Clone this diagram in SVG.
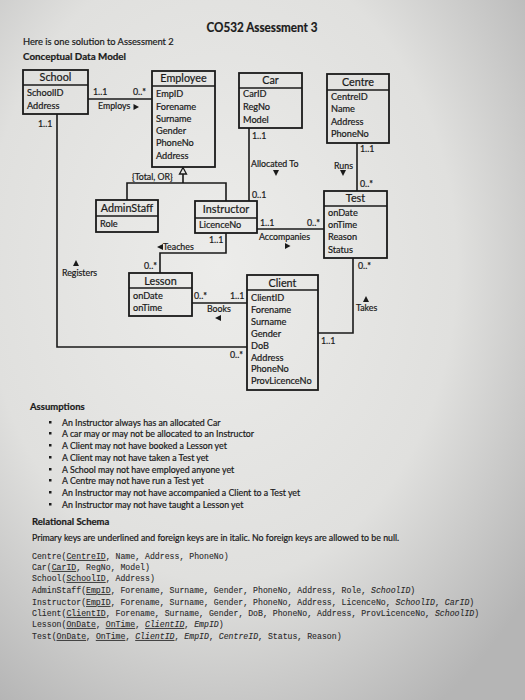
<svg xmlns="http://www.w3.org/2000/svg" width="525" height="700" viewBox="0 0 525 700">
<defs>
<radialGradient id="bg" cx="0.42" cy="0.38" r="0.75">
<stop offset="0" stop-color="#ececea"/>
<stop offset="0.6" stop-color="#e0e0de"/>
<stop offset="1" stop-color="#b5b5b5"/>
</radialGradient>
<style>
text{font-family:Lato,"Liberation Sans",sans-serif;fill:#1a1a1a;stroke:#1a1a1a;stroke-width:0.2}
.box{fill:none;stroke:#1a1a1a;stroke-width:1.8}
.ln{fill:none;stroke:#1a1a1a;stroke-width:1.6}
.t{font-size:10.8px;text-anchor:middle}
.f{font-size:9.2px}
.l{font-size:8.8px}
.a{font-size:8.8px}
.s{font-family:"Liberation Mono",monospace;font-size:8.2px;fill:#2a2a2a;stroke:#2a2a2a;stroke-width:0.1}
.u{text-decoration:underline}
.i{font-style:italic}
.tri{fill:#1a1a1a}
</style>
</defs>
<rect width="525" height="700" fill="url(#bg)"/>

<text x="262" y="32" style="font-size:12.5px;font-weight:bold" text-anchor="middle" textLength="111" lengthAdjust="spacingAndGlyphs">CO532 Assessment 3</text>
<text x="23" y="45" style="font-size:9.3px">Here is one solution to Assessment 2</text>
<text x="23" y="60" style="font-size:9.8px;font-weight:bold">Conceptual Data Model</text>

<g id="connectors">
<path class="ln" d="M88,99 H152"/>
<path class="ln" d="M57,114 V347 H247"/>
<path class="ln" d="M183,174 V183 M127,200 V183 H226 V201"/>
<polygon points="183,167.5 179.5,174 186.5,174" fill="none" stroke="#1a1a1a" stroke-width="1.3"/>
<path class="ln" d="M249,128 V201"/>
<path class="ln" d="M357,143 V191"/>
<path class="ln" d="M257,229 H324"/>
<path class="ln" d="M226,233 V253 H160 V273"/>
<path class="ln" d="M192,303 H247"/>
<path class="ln" d="M353,258 V333 H318"/>

<text class="l" x="93" y="95">1..1</text>
<text class="l" x="133" y="95">0..*</text>
<text class="l" x="98" y="109">Employs</text>
<polygon class="tri" points="133.5,104 133.5,110 139,107"/>
<text class="l" x="38" y="127">1..1</text>
<polygon class="tri" points="76,260 73,266 79,266"/>
<text class="l" x="62" y="276">Registers</text>
<text class="l" x="230" y="358">0..*</text>
<text class="l" x="132" y="180">{Total, OR}</text>
<text class="l" x="252" y="139">1..1</text>
<text class="l" x="251" y="167">Allocated To</text>
<polygon class="tri" points="273,170 279,170 276,176"/>
<text class="l" x="252" y="198">0..1</text>
<text class="l" x="360" y="152">1..1</text>
<text class="l" x="334" y="169">Runs</text>
<polygon class="tri" points="340,170 346,170 343,176"/>
<text class="l" x="360" y="187">0..*</text>
<text class="l" x="260" y="226">1..1</text>
<text class="l" x="307" y="226">0..*</text>
<text class="l" x="259" y="240">Accompanies</text>
<polygon class="tri" points="285,243 285,249 290.5,246"/>
<text class="l" x="358" y="269">0..*</text>
<polygon class="tri" points="366,296 363,302 369,302"/>
<text class="l" x="356" y="311">Takes</text>
<text class="l" x="321" y="344">1..1</text>
<text class="l" x="209" y="243">1..1</text>
<polygon class="tri" points="157,247 163,244 163,250"/>
<text class="l" x="163" y="250">Teaches</text>
<text class="l" x="144" y="269">0..*</text>
<text class="l" x="194" y="299">0..*</text>
<text class="l" x="230" y="299">1..1</text>
<text class="l" x="207" y="312">Books</text>
<polygon class="tri" points="215,318 221,315 221,321"/>
</g>

<g id="school">
<rect class="box" x="23" y="70" width="65" height="44"/>
<path class="ln" d="M23,85 H88"/>
<text class="t" x="55.5" y="81">School</text>
<text class="f" x="27" y="96">SchoolID</text>
<text class="f" x="27" y="109">Address</text>
</g>

<g id="employee">
<rect class="box" x="152" y="71" width="63" height="96"/>
<path class="ln" d="M152,86 H215"/>
<text class="t" x="183.5" y="82">Employee</text>
<text class="f" x="156" y="97">EmpID</text>
<text class="f" x="156" y="110">Forename</text>
<text class="f" x="156" y="122">Surname</text>
<text class="f" x="156" y="134">Gender</text>
<text class="f" x="156" y="146">PhoneNo</text>
<text class="f" x="156" y="159">Address</text>
</g>

<g id="car">
<rect class="box" x="239" y="73" width="63" height="55"/>
<path class="ln" d="M239,88 H302"/>
<text class="t" x="270.5" y="84">Car</text>
<text class="f" x="243" y="97">CarID</text>
<text class="f" x="243" y="110">RegNo</text>
<text class="f" x="243" y="123">Model</text>
</g>

<g id="centre">
<rect class="box" x="327" y="74" width="62" height="69"/>
<path class="ln" d="M327,90 H389"/>
<text class="t" x="358" y="86">Centre</text>
<text class="f" x="331" y="100">CentreID</text>
<text class="f" x="331" y="112">Name</text>
<text class="f" x="331" y="125">Address</text>
<text class="f" x="331" y="137">PhoneNo</text>
</g>

<g id="adminstaff">
<rect class="box" x="96" y="200" width="62" height="32"/>
<path class="ln" d="M96,216 H158"/>
<text class="t" x="127" y="212">AdminStaff</text>
<text class="f" x="100" y="227">Role</text>
</g>

<g id="instructor">
<rect class="box" x="195" y="201" width="62" height="32"/>
<path class="ln" d="M195,218 H257"/>
<text class="t" x="226" y="213">Instructor</text>
<text class="f" x="199" y="228">LicenceNo</text>
</g>

<g id="test">
<rect class="box" x="324" y="191" width="63" height="67"/>
<path class="ln" d="M324,206 H387"/>
<text class="t" x="355.5" y="202">Test</text>
<text class="f" x="328" y="216">onDate</text>
<text class="f" x="328" y="228">onTime</text>
<text class="f" x="328" y="240">Reason</text>
<text class="f" x="328" y="253">Status</text>
</g>

<g id="lesson">
<rect class="box" x="129" y="273" width="63" height="43"/>
<path class="ln" d="M129,288 H192"/>
<text class="t" x="160.5" y="285">Lesson</text>
<text class="f" x="133" y="299">onDate</text>
<text class="f" x="133" y="311">onTime</text>
</g>

<g id="client">
<rect class="box" x="247" y="275" width="71" height="115"/>
<path class="ln" d="M247,290 H318"/>
<text class="t" x="282.5" y="287">Client</text>
<text class="f" x="251" y="301">ClientID</text>
<text class="f" x="251" y="313">Forename</text>
<text class="f" x="251" y="325">Surname</text>
<text class="f" x="251" y="337">Gender</text>
<text class="f" x="251" y="349">DoB</text>
<text class="f" x="251" y="361">Address</text>
<text class="f" x="251" y="372">PhoneNo</text>
<text class="f" x="251" y="384">ProvLicenceNo</text>
</g>

<g id="assumptions">
<text x="30" y="410" style="font-size:9.5px;font-weight:bold">Assumptions</text>
<g fill="#1a1a1a">
<rect x="49" y="421" width="2.5" height="2.5"/>
<rect x="49" y="432" width="2.5" height="2.5"/>
<rect x="49" y="444" width="2.5" height="2.5"/>
<rect x="49" y="456" width="2.5" height="2.5"/>
<rect x="49" y="468" width="2.5" height="2.5"/>
<rect x="49" y="479" width="2.5" height="2.5"/>
<rect x="49" y="491" width="2.5" height="2.5"/>
<rect x="49" y="503" width="2.5" height="2.5"/>
</g>
<text class="a" x="62" y="426">An Instructor always has an allocated Car</text>
<text class="a" x="62" y="437">A car may or may not be allocated to an Instructor</text>
<text class="a" x="62" y="449">A Client may not have booked a Lesson yet</text>
<text class="a" x="62" y="461">A Client may not have taken a Test yet</text>
<text class="a" x="62" y="473">A School may not have employed anyone yet</text>
<text class="a" x="62" y="484">A Centre may not have run a Test yet</text>
<text class="a" x="62" y="496">An Instructor may not have accompanied a Client to a Test yet</text>
<text class="a" x="62" y="508">An Instructor may not have taught a Lesson yet</text>
</g>

<g id="schema">
<text x="32" y="525" style="font-size:9.5px;font-weight:bold">Relational Schema</text>
<text x="32" y="541" style="font-size:8.8px">Primary keys are underlined and foreign keys are in italic. No foreign keys are allowed to be null.</text>
<text class="s" x="32" y="559">Centre(<tspan class="u">CentreID</tspan>, Name, Address, PhoneNo)</text>
<text class="s" x="32" y="570">Car(<tspan class="u">CarID</tspan>, RegNo, Model)</text>
<text class="s" x="32" y="581">School(<tspan class="u">SchoolID</tspan>, Address)</text>
<text class="s" x="32" y="593">AdminStaff(<tspan class="u">EmpID</tspan>, Forename, Surname, Gender, PhoneNo, Address, Role, <tspan class="i">SchoolID</tspan>)</text>
<text class="s" x="32" y="605">Instructor(<tspan class="u">EmpID</tspan>, Forename, Surname, Gender, PhoneNo, Address, LicenceNo, <tspan class="i">SchoolID</tspan>, <tspan class="i">CarID</tspan>)</text>
<text class="s" x="32" y="616">Client(<tspan class="u">ClientID</tspan>, Forename, Surname, Gender, DoB, PhoneNo, Address, ProvLicenceNo, <tspan class="i">SchoolID</tspan>)</text>
<text class="s" x="32" y="627">Lesson(<tspan class="u">OnDate</tspan>, <tspan class="u">OnTime</tspan>, <tspan class="i u">ClientID</tspan>, <tspan class="i">EmpID</tspan>)</text>
<text class="s" x="32" y="639">Test(<tspan class="u">OnDate</tspan>, <tspan class="u">OnTime</tspan>, <tspan class="i u">ClientID</tspan>, <tspan class="i">EmpID</tspan>, <tspan class="i">CentreID</tspan>, Status, Reason)</text>
</g>
</svg>
